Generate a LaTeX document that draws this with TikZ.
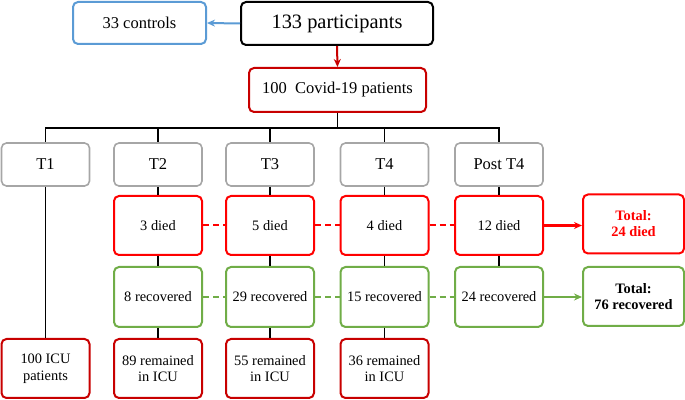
\documentclass[tikz,border=0pt]{standalone}
\usepackage{fontspec}
\setmainfont{Liberation Serif}
\usepackage{tikz}
\usetikzlibrary{arrows.meta}

\definecolor{boxgray}{RGB}{166,166,166}
\definecolor{diedred}{RGB}{255,0,0}
\definecolor{darkred}{RGB}{200,0,0}
\definecolor{recgreen}{RGB}{112,173,71}
\definecolor{ctrlblue}{RGB}{91,155,213}

\begin{document}
\begin{tikzpicture}[x=0.5pt, y=-0.5pt,
    box/.style={draw, rounded corners=2.5pt, line width=1pt, inner sep=0pt, align=center,
      font=\fontsize{7.2}{7.6}\selectfont},
    timebox/.style={box, draw=boxgray, line width=0.8pt, minimum width=44pt, minimum height=21.5pt,
      font=\fontsize{8.25}{9}\selectfont},
    diedbox/.style={box, draw=diedred, minimum width=44pt, minimum height=29.5pt},
    recbox/.style={box, draw=recgreen, minimum width=44pt, minimum height=30pt},
    icubox/.style={box, draw=darkred, minimum width=44pt, minimum height=29.5pt},
    link/.style={draw=black, line width=0.6pt},
    dashlink/.style={line width=1pt, dash pattern=on 3pt off 2pt},
    ]
    \useasboundingbox (0,0) rectangle (685,400);

    % top of the chart
    \node[box, draw=black, minimum width=96pt, minimum height=21.5pt,
      font=\fontsize{10.2}{11}\selectfont] (part) at (337,23.5) {133 participants};
    \node[box, draw=ctrlblue, minimum width=66.5pt, minimum height=21pt,
      font=\fontsize{8.25}{9}\selectfont] (ctrl) at (139.5,23) {33 controls};
    \node[box, draw=darkred, minimum width=88.5pt, minimum height=22pt,
      font=\fontsize{8.25}{9}\selectfont] (covid) at (337.5,90) {100\ \ Covid-19 patients};

    \draw[ctrlblue, line width=1pt, -{Stealth[length=4pt,width=3.5pt]}] (part.west) -- (ctrl.east);
    \draw[darkred, line width=1pt, -{Stealth[length=4pt,width=3.5pt]}] (part.south) -- (covid.north);

    % time points
    \node[timebox] (t1) at (45.5,164.5) {T1};
    \node[timebox] (t2) at (158,164.5) {T2};
    \node[timebox] (t3) at (270,164.5) {T3};
    \node[timebox] (t4) at (384.5,164.5) {T4};
    \node[timebox] (t5) at (499,164.5) {Post T4};

    \foreach \t in {t1,t2,t3,t4,t5}
      \draw[link] (covid.south) -- ++(0,15) -| (\t.north);

    % deaths
    \node[diedbox] (d2) at (158,225.5) {3 died};
    \node[diedbox] (d3) at (270,225.5) {5 died};
    \node[diedbox] (d4) at (384.5,225.5) {4 died};
    \node[diedbox] (d5) at (499,225.5) {12 died};
    \node[diedbox, minimum width=50.5pt, text=diedred,
      font=\fontsize{7.2}{8}\selectfont\bfseries] (dtot) at (633.5,224) {Total:\\24 died};

    % recoveries
    \node[recbox] (r2) at (158,297) {8 recovered};
    \node[recbox] (r3) at (270,297) {29 recovered};
    \node[recbox] (r4) at (384.5,297) {15 recovered};
    \node[recbox] (r5) at (499,297) {24 recovered};
    \node[recbox, minimum width=50.5pt, minimum height=29.5pt,
      font=\fontsize{7.2}{8}\selectfont\bfseries] (rtot) at (633.5,296.5) {Total:\\76 recovered};

    % still in ICU
    \node[icubox, font=\fontsize{7.2}{8.5}\selectfont] (i1) at (45.5,368.5) {100 ICU\\patients};
    \node[icubox] (i2) at (158,368.5) {89 remained\\in ICU};
    \node[icubox] (i3) at (270,368.5) {55 remained\\in ICU};
    \node[icubox] (i4) at (384.5,368.5) {36 remained\\in ICU};

    \draw[link] (t1.south) -- (i1.north);
    \foreach \n in {2,3,4} {
      \draw[link] (t\n.south) -- (d\n.north);
      \draw[link] (d\n.south) -- (r\n.north);
      \draw[link] (r\n.south) -- (i\n.north);
    }
    \draw[link] (t5.south) -- (d5.north);
    \draw[link] (d5.south) -- (r5.north);

    \draw[diedred, dashlink] (d2.east) -- (d3.west);
    \draw[diedred, dashlink] (d3.east) -- (d4.west);
    \draw[diedred, dashlink] (d4.east) -- (d5.west);
    \draw[recgreen, dashlink] (r2.east) -- (r3.west);
    \draw[recgreen, dashlink] (r3.east) -- (r4.west);
    \draw[recgreen, dashlink] (r4.east) -- (r5.west);

    \draw[diedred, line width=1.1pt, -{Stealth[length=4pt,width=3.5pt]}] (d5.east) -- (d5.east -| dtot.west);
    \draw[recgreen, line width=1.1pt, -{Stealth[length=4pt,width=3.5pt]}] (r5.east) -- (r5.east -| rtot.west);
\end{tikzpicture}
\end{document}
